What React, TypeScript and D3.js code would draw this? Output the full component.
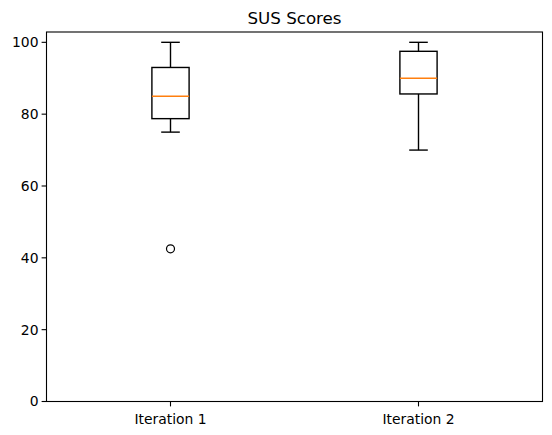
import React from 'react';
import * as d3 from 'd3';

// Values
const categories = ['Iteration 1', 'Iteration 2'];
const whiskerLow = [75, 70];
const q1 = [78.75, 85.625];
const medians = [85, 90];
const q3 = [93, 97.5];
const whiskerHigh = [100, 100];
const outliers: number[][] = [[42.5], []];
const yTicks = [0, 20, 40, 60, 80, 100];

const W = 552;
const H = 435;
const margin = { left: 46.5, right: 9.5, top: 32, bottom: 33.5 };
const FONT = 'DejaVu Sans, sans-serif';

const App: React.FC = () => {
  const innerW = W - margin.left - margin.right;
  const innerH = H - margin.top - margin.bottom;

  const x = d3.scaleLinear().domain([0.5, categories.length + 0.5]).range([0, innerW]);
  const y = d3.scaleLinear().domain([0, 102.875]).range([innerH, 0]);

  const boxW = x(1.15) - x(1);
  const capW = boxW / 2;

  return (
    <svg
      width={W}
      height={H}
      style={{ position: 'absolute', left: 0, top: 0, background: '#fff' }}
      fontFamily={FONT}
    >
      <text x={margin.left + innerW / 2} y={24} textAnchor="middle" fontSize={16.7} fill="#000">
        SUS Scores
      </text>
      <g transform={`translate(${margin.left},${margin.top})`}>
        {categories.map((c, i) => {
          const cx = x(i + 1);
          return (
            <g key={c} stroke="#000" strokeWidth={1.4} fill="none">
              <line x1={cx} x2={cx} y1={y(q1[i])} y2={y(whiskerLow[i])} />
              <line x1={cx} x2={cx} y1={y(q3[i])} y2={y(whiskerHigh[i])} />
              <line x1={cx - capW / 2} x2={cx + capW / 2} y1={y(whiskerLow[i])} y2={y(whiskerLow[i])} />
              <line x1={cx - capW / 2} x2={cx + capW / 2} y1={y(whiskerHigh[i])} y2={y(whiskerHigh[i])} />
              <rect x={cx - boxW / 2} y={y(q3[i])} width={boxW} height={y(q1[i]) - y(q3[i])} />
              <line
                x1={cx - boxW / 2}
                x2={cx + boxW / 2}
                y1={y(medians[i])}
                y2={y(medians[i])}
                stroke="#ff7f0e"
              />
              {outliers[i].map((v, j) => (
                <circle key={j} cx={cx} cy={y(v)} r={4} strokeWidth={1.2} />
              ))}
            </g>
          );
        })}

        {/* y axis */}
        {yTicks.map((t) => (
          <g key={t} transform={`translate(0,${y(t)})`}>
            <line x1={-4.9} x2={0} stroke="#000" strokeWidth={1.1} />
            <text x={-8} dy="0.35em" textAnchor="end" fontSize={13.9} fill="#000">
              {t}
            </text>
          </g>
        ))}
        {/* x axis */}
        {categories.map((c, i) => (
          <g key={c} transform={`translate(${x(i + 1)},${innerH})`}>
            <line y1={0} y2={4.9} stroke="#000" strokeWidth={1.1} />
            <text y={22} textAnchor="middle" fontSize={13.9} fill="#000">
              {c}
            </text>
          </g>
        ))}
        <rect x={0} y={0} width={innerW} height={innerH} fill="none" stroke="#000" strokeWidth={1.1} />
      </g>
    </svg>
  );
};

export default App;
